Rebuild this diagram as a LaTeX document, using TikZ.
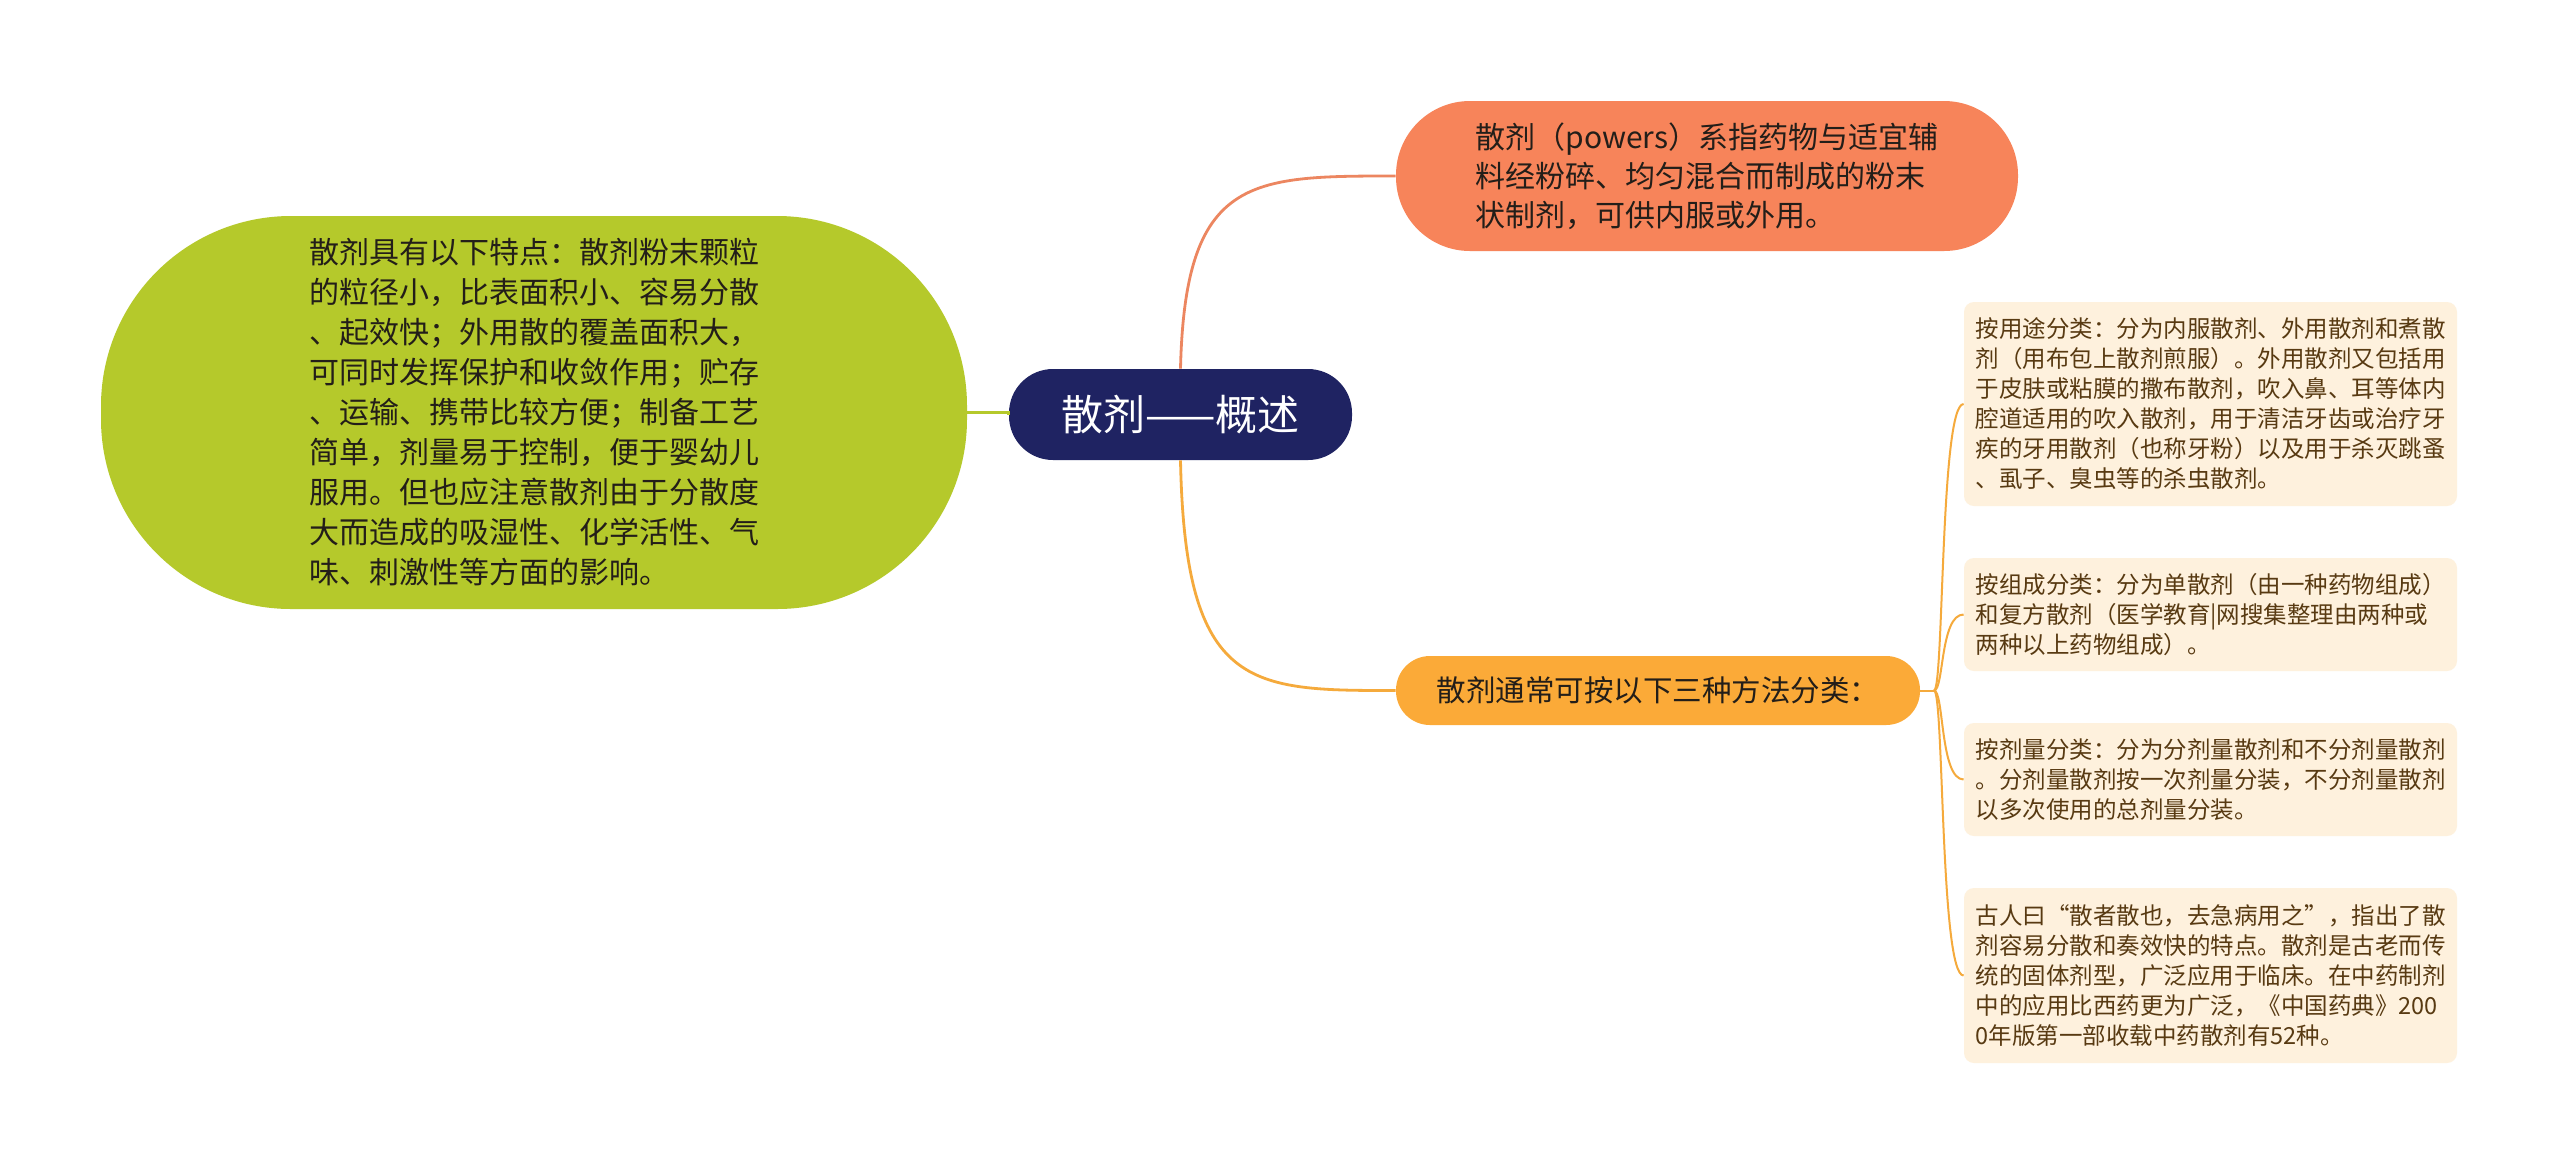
\documentclass[tikz,border=0pt]{standalone}
\usepackage{fontspec}
\setmainfont{Noto Sans CJK SC}
\definecolor{navy}{RGB}{31,35,98}
\definecolor{coral}{RGB}{247,132,90}
\definecolor{coralline}{RGB}{236,134,96}
\definecolor{lime}{RGB}{181,201,43}
\definecolor{amber}{RGB}{251,170,56}
\definecolor{amberline}{RGB}{245,170,60}
\definecolor{cream}{RGB}{254,241,221}
\definecolor{boxtext}{RGB}{88,58,18}
\definecolor{darktext}{RGB}{35,30,25}
\begin{document}
\begin{tikzpicture}[x=0.5pt,y=-0.5pt,
  rootnode/.style={fill=navy,text=white,rounded corners=22pt,minimum width=171.5pt,minimum height=45.5pt,inner sep=0pt,font=\fontsize{21}{25}\selectfont},
  bignode/.style={align=left,inner sep=0pt,text=darktext,font=\fontsize{15}{20}\selectfont},
  leafbox/.style={fill=cream,rounded corners=5pt,minimum width=246.5pt,align=left,inner sep=0pt,text=boxtext,font=\fontsize{11.75}{15}\selectfont},
  conn/.style={line width=1.4pt},
  branch/.style={amberline,line width=1pt}]
\useasboundingbox (0,0) rectangle (2560,1164);
\fill[white] (0,0) rectangle (2560,1164);

\node[rootnode] (root) at (1180.5,414.5) {散剂——概述};

\node[fill=coral,rounded corners=37pt,minimum width=311pt,minimum height=75pt,bignode,font=\fontsize{15}{19.5}\selectfont] (def) at (1707,176) {散剂（powers）系指药物与适宜辅\\料经粉碎、均匀混合而制成的粉末\\状制剂，可供内服或外用。};

\node[fill=lime,rounded corners=95pt,minimum width=433pt,minimum height=196.5pt,bignode] (feat) at (534,412.5) {散剂具有以下特点：散剂粉末颗粒\\的粒径小，比表面积小、容易分散\\、起效快；外用散的覆盖面积大，\\可同时发挥保护和收敛作用；贮存\\、运输、携带比较方便；制备工艺\\简单，剂量易于控制，便于婴幼儿\\服用。但也应注意散剂由于分散度\\大而造成的吸湿性、化学活性、气\\味、刺激性等方面的影响。};

\node[fill=amber,rounded corners=17pt,minimum width=262pt,minimum height=34.5pt,inner sep=0pt,text=darktext,font=\fontsize{14.75}{18}\selectfont] (cls) at (1658,690.5) {散剂通常可按以下三种方法分类：};

\node[leafbox,minimum height=102pt] (b1) at (2210.5,404) {按用途分类：分为内服散剂、外用散剂和煮散\\剂（用布包上散剂煎服）。外用散剂又包括用\\于皮肤或粘膜的撒布散剂，吹入鼻、耳等体内\\腔道适用的吹入散剂，用于清洁牙齿或治疗牙\\疾的牙用散剂（也称牙粉）以及用于杀灭跳蚤\\、虱子、臭虫等的杀虫散剂。};
\node[leafbox,minimum height=56.5pt] (b2) at (2210.5,614.5) {按组成分类：分为单散剂（由一种药物组成）\\和复方散剂（医学教育|网搜集整理由两种或\\两种以上药物组成）。};
\node[leafbox,minimum height=56.5pt] (b3) at (2210.5,779.5) {按剂量分类：分为分剂量散剂和不分剂量散剂\\。分剂量散剂按一次剂量分装，不分剂量散剂\\以多次使用的总剂量分装。};
\node[leafbox,minimum height=87.5pt] (b4) at (2210.5,975.5) {古人曰“散者散也，去急病用之”，指出了散\\剂容易分散和奏效快的特点。散剂是古老而传\\统的固体剂型，广泛应用于临床。在中药制剂\\中的应用比西药更为广泛，《中国药典》200\\0年版第一部收载中药散剂有52种。};

% connectors
\draw[conn,lime] (root.west) -- (feat.east -| root.west) -- (feat.east);
\draw[conn,coralline] (root.north) .. controls (1185,176) and (1250,176) .. (def.west);
\draw[conn,amberline] (root.south) .. controls (1185,690.5) and (1250,690.5) .. (cls.west);
\coordinate (hub) at (1934,690.5);
\draw[branch] (cls.east) -- (hub);
\draw[branch] (hub) .. controls (1944,690.5) and (1940,404) .. (b1.west);
\draw[branch] (hub) .. controls (1944,690.5) and (1940,614.5) .. (b2.west);
\draw[branch] (hub) .. controls (1944,690.5) and (1940,779.5) .. (b3.west);
\draw[branch] (hub) .. controls (1944,690.5) and (1940,975.5) .. (b4.west);
\end{tikzpicture}
\end{document}
